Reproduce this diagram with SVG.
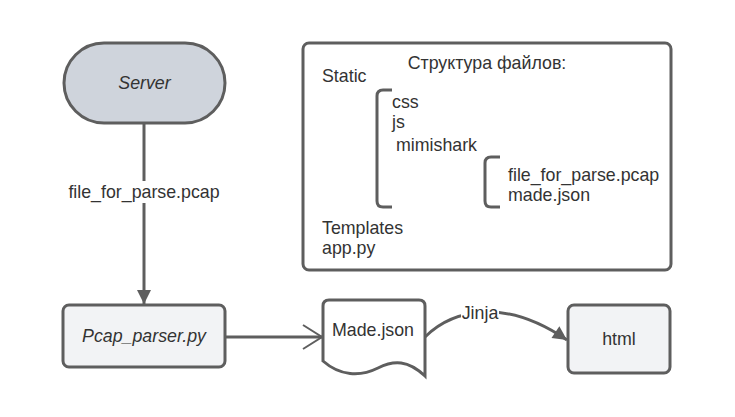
<svg xmlns="http://www.w3.org/2000/svg" width="735" height="417" viewBox="0 0 735 417">
<style>
text{font-family:"Liberation Sans",Arial,sans-serif;font-size:17.8px;fill:#333;}
.c{text-anchor:middle;}
.it{font-style:italic;}
.sh{stroke:#5e5e5e;stroke-width:3;}
.ln{fill:none;stroke:#5e5e5e;stroke-width:3;}
</style>
<defs>
<marker id="fa" markerUnits="userSpaceOnUse" markerWidth="16" markerHeight="16" viewBox="0 0 16 16" refX="15" refY="8" orient="auto">
<path d="M1,1 L15,8 L1,15 Z" fill="#5e5e5e"/>
</marker>
<marker id="oa" markerUnits="userSpaceOnUse" markerWidth="24" markerHeight="30" viewBox="0 0 24 30" refX="21" refY="15" orient="auto">
<path d="M2,3 L21,15 L2,27" fill="none" stroke="#5e5e5e" stroke-width="2"/>
</marker>
</defs>
<rect width="735" height="417" fill="#fff"/>
<g id="connectors">
<path class="ln" d="M144,123 L144,304" marker-end="url(#fa)"/>
<rect x="66" y="181" width="156" height="22" fill="#fff"/>
<text class="c" x="144" y="198">file_for_parse.pcap</text>
<path class="ln" d="M225,337 L322,337" marker-end="url(#oa)"/>
<path class="ln" d="M425,337 C440,322 460,313 485,312 C515,311 545,325 567,340" marker-end="url(#fa)"/>
<rect x="461" y="303" width="38" height="20" fill="#fff"/>
<text class="c" x="480" y="319">Jinja</text>
</g>
<g id="server">
<rect class="sh" x="64" y="43" width="161" height="80" rx="40" fill="#cfd4dc"/>
<text class="c it" x="144.5" y="89">Server</text>
</g>
<g id="structure">
<rect class="sh" x="303" y="43" width="368" height="227" rx="6" fill="#fff"/>
<text class="c" x="487" y="69">Структура файлов:</text>
<text x="322" y="82">Static</text>
<path class="ln" d="M392,90 L383,90 Q377,90 377,96 L377,201 Q377,207 383,207 L392,207"/>
<text x="392" y="108">css</text>
<text x="392" y="128">js</text>
<text x="396" y="151">mimishark</text>
<path class="ln" d="M500,157 L491,157 Q485,157 485,163 L485,201 Q485,207 491,207 L500,207"/>
<text x="508" y="181">file_for_parse.pcap</text>
<text x="508" y="201">made.json</text>
<text x="322" y="234">Templates</text>
<text x="322" y="254">app.py</text>
</g>
<g id="pcap_parser">
<rect class="sh" x="63" y="305" width="162" height="62" rx="6" fill="#f2f3f5"/>
<text class="c it" x="144" y="342">Pcap_parser.py</text>
</g>
<g id="made_json">
<path class="sh" d="M323,306 Q323,300 329,300 L419,300 Q425,300 425,306 L425,376 C408,360 394,360 378,368 C360,377 340,376 323,361 Z" fill="#fff"/>
<text class="c" x="373" y="336">Made.json</text>
</g>
<g id="html">
<rect class="sh" x="568" y="305" width="102" height="68" rx="6" fill="#f2f3f5"/>
<text class="c" x="619" y="345">html</text>
</g>
</svg>
